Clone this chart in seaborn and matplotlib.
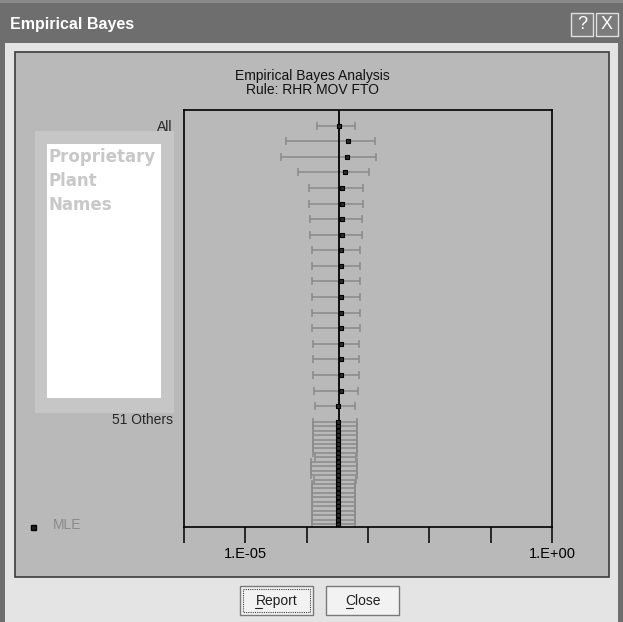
import matplotlib
matplotlib.use("Agg")

import matplotlib.pyplot as plt
from matplotlib.patches import Rectangle
import numpy as np
import pandas as pd
import seaborn as sns

# ===========================
# Data
# ===========================

row_labels = ["All"] + [""] * 18

mle = [3.33e-4, 4.72e-4, 4.60e-4, 4.22e-4, 3.72e-4, 3.72e-4, 3.72e-4, 3.72e-4,
       3.67e-4, 3.67e-4, 3.67e-4, 3.67e-4, 3.67e-4, 3.67e-4, 3.67e-4, 3.67e-4,
       3.59e-4, 3.59e-4, 3.28e-4]
lower = [1.46e-4, 4.60e-5, 3.78e-5, 7.20e-5, 1.09e-4, 1.09e-4, 1.13e-4, 1.13e-4,
         1.21e-4, 1.21e-4, 1.21e-4, 1.21e-4, 1.21e-4, 1.21e-4, 1.26e-4, 1.26e-4,
         1.26e-4, 1.32e-4, 1.38e-4]
upper = [6.14e-4, 1.32e-3, 1.34e-3, 1.03e-3, 8.30e-4, 8.30e-4, 7.98e-4, 7.98e-4,
         7.50e-4, 7.50e-4, 7.50e-4, 7.50e-4, 7.50e-4, 7.50e-4, 7.13e-4, 7.13e-4,
         7.23e-4, 6.87e-4, 6.21e-4]

others_label = "51 Others"
others_mle = [3.30e-4] * 8 + [3.28e-4] + [3.30e-4] * 4 + [3.27e-4] + [3.25e-4] * 10
others_lower = [1.26e-4] * 8 + [1.37e-4] + [1.19e-4] * 4 + [1.30e-4] + [1.21e-4] * 10
others_upper = [6.55e-4] * 8 + [6.40e-4] + [6.55e-4] * 4 + [6.30e-4] + [6.20e-4] * 10

pooled = 3.37e-4

x_ticks = [1e-6, 1e-5, 1e-4, 1e-3, 1e-2, 1e-1, 1e0]
x_tick_labels = ["", "1.E-05", "", "", "", "", "1.E+00"]

chart_title = "Empirical Bayes Analysis"
chart_rule = "Rule: RHR MOV FTO"
window_title = "Empirical Bayes"
names_box = ["Proprietary", "Plant", "Names"]

# ===========================
# Build table
# ===========================

top = pd.DataFrame({"label": row_labels, "mle": mle, "lo": lower, "hi": upper})
top["y"] = np.arange(1, len(top) + 1)
oth = pd.DataFrame({"mle": others_mle, "lo": others_lower, "hi": others_upper})
oth["y"] = 20.0 + np.arange(len(oth)) * 0.285
df = pd.concat([top, oth], ignore_index=True)

# ===========================
# Style
# ===========================

sns.set_style("white")
plt.rcParams["font.family"] = ["Liberation Sans", "DejaVu Sans"]

W, H = 623, 622
fig = plt.figure(figsize=(W / 100, H / 100), dpi=100)

# window chrome drawn in pixel space
bg = fig.add_axes([0, 0, 1, 1])
bg.set_xlim(0, W)
bg.set_ylim(H, 0)
bg.axis("off")

bg.add_patch(Rectangle((0, 0), W, H, facecolor="#6e6e6e", edgecolor="none"))
bg.add_patch(Rectangle((0, 0), W, 3, facecolor="#8a8a8a", edgecolor="none"))
bg.add_patch(Rectangle((5, 43), W - 10, H - 43, facecolor="#e4e4e4", edgecolor="none"))
bg.add_patch(Rectangle((15, 52), 594, 525, facecolor="#b9b9b9",
                       edgecolor="#3c3c3c", linewidth=1.2))
bg.text(10, 25, window_title, color="white", fontsize=11.5, fontweight="bold",
        va="center", ha="left", family=["Liberation Sans Narrow", "Liberation Sans"])

for x0, s in [(571, "?"), (596, "X")]:
    bg.add_patch(Rectangle((x0, 13), 22, 23, facecolor="#7c7c7c",
                           edgecolor="#e0e0e0", linewidth=1.0))
    bg.text(x0 + 11, 24.5, s, color="white", fontsize=13, ha="center", va="center")

# buttons
for x0, s, ux in [(240, "Report", 15), (326, "Close", 20)]:
    bg.add_patch(Rectangle((x0, 586), 73, 29, facecolor="#f2f2f2",
                           edgecolor="#7a7a7a", linewidth=1.0))
    bg.text(x0 + 36.5, 601, s, fontsize=10, ha="center", va="center", color="#202020")
    bg.plot([x0 + ux, x0 + ux + 7], [608, 608], color="#202020", lw=0.8)
bg.add_patch(Rectangle((243, 589), 67, 23, facecolor="none", edgecolor="#404040",
                       linewidth=0.8, linestyle=(0, (1, 1))))

# names box
bg.add_patch(Rectangle((35, 131), 139, 282, facecolor="#c6c6c6", edgecolor="none"))
bg.add_patch(Rectangle((47, 144), 114, 254, facecolor="white", edgecolor="none"))
for i, s in enumerate(names_box):
    bg.text(48, 157 + 24 * i, s, color="#c8c8c8", fontsize=12, fontweight="bold",
            family=["DejaVu Sans"], ha="left", va="center")

# chart titles
bg.text(312, 76, chart_title, fontsize=10, ha="center", va="center", color="#111111")
bg.text(312, 90, chart_rule, fontsize=10, ha="center", va="center", color="#111111")

# MLE legend
bg.plot([33], [527], marker="s", ms=3.6, color="#202020", mec="black")
bg.text(53, 525, "MLE", fontsize=10, color="#8a8a8a", ha="left", va="center")

# ===========================
# Main plot
# ===========================

ax = fig.add_axes([184 / W, 1 - 527 / H, 368 / W, 417 / H])
ax.set_facecolor("none")

ax.errorbar(df["mle"], df["y"],
            xerr=[df["mle"] - df["lo"], df["hi"] - df["mle"]],
            fmt="none", ecolor="#8a8a8a", elinewidth=1.1,
            capsize=3.2, capthick=1.1, zorder=2)

ax.axvline(pooled, color="black", lw=1.3, zorder=3)

sns.scatterplot(data=df, x="mle", y="y", marker="s", s=12,
                color="#2a2a2a", edgecolor="black", linewidth=0.8,
                zorder=4, ax=ax, legend=False)

ax.set_xscale("log")
ax.set_xlim(1e-6, 1e0)
ax.set_ylim(26.75, 0)
ax.set_xticks(x_ticks)
ax.set_xticklabels(x_tick_labels)
ax.minorticks_off()
ax.set_yticks([1, 19.8])
ax.set_yticklabels(["All", others_label])
ax.tick_params(axis="x", which="major", bottom=True, direction="out", length=11.5,
               width=1.1, labelsize=10.5, pad=3, colors="black")
ax.tick_params(axis="y", left=True, length=0, labelsize=10, pad=8)
ax.set_xlabel("")
ax.set_ylabel("")

for sp in ax.spines.values():
    sp.set_color("black")
    sp.set_linewidth(1.2)

fig.savefig("out.png", dpi=100)
plt.close()
